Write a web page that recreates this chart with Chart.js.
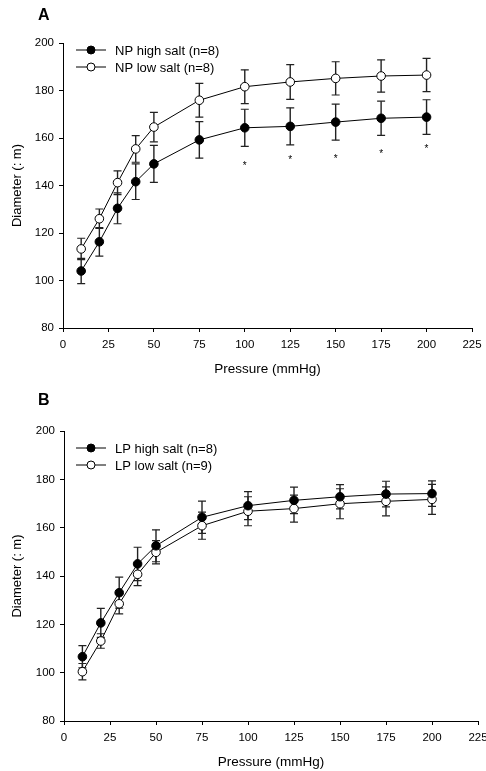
<html lang="en">
  <head>
    <meta charset="UTF-8" />
    <script src="https://cdn.jsdelivr.net/npm/chart.js"></script>
    <title>Diameter vs Pressure</title>
    <style>
      body { margin: 0; background: #fff; }
      canvas { display: block; }
    </style>
  </head>
  <body>
    <canvas id="chartA" width="486" height="385"></canvas>
    <canvas id="chartB" width="486" height="386"></canvas>
    <script>
      // shared x values (mmHg)
      const pressure = [10, 20, 30, 40, 50, 75, 100, 125, 150, 175, 200];

      // panel A
      const npHigh = [104, 116.3, 130.4, 141.6, 149.1, 159.2, 164.3, 164.9, 166.7, 168.3, 168.8];
      const npHighErr = [5.3, 6, 6.5, 7.5, 7.8, 7.7, 7.8, 7.8, 7.6, 7.2, 7.3];
      const npLow = [113.3, 126.0, 141.2, 155.4, 164.6, 175.9, 181.6, 183.6, 185.1, 186.1, 186.5];
      const npLowErr = [4.5, 4.1, 5, 5.6, 6.2, 7.1, 7.1, 7.3, 7, 6.8, 7];
      const starX = [100, 125, 150, 175, 200];
      const starY = [149.5, 151.7, 152.5, 154.2, 156.3];

      // panel B
      const lpHigh = [106.6, 120.6, 133.1, 145, 152.5, 164.3, 169.1, 171.3, 172.8, 173.9, 174.1];
      const lpHighErr = [4.6, 6, 6.4, 6.9, 6.6, 6.7, 5.8, 5.5, 5, 5.3, 5.3];
      const lpLow = [100.4, 113.1, 128.5, 140.7, 149.8, 160.8, 166.8, 167.9, 169.9, 170.9, 171.7];
      const lpLowErr = [3.4, 3, 4.2, 4.7, 4.8, 5.6, 6, 5.6, 6.2, 6, 6.2];

      const xTicks = { min: 0, max: 225, step: 25 };
      const yTicks = { min: 80, max: 200, step: 20 };

      const FONT = "'Liberation Sans', Arial, sans-serif";

      // error bars behind the markers
      const errorBars = {
        id: 'errorBars',
        beforeDatasetsDraw(chart) {
          const ctx = chart.ctx;
          const y = chart.scales.y;
          chart.data.datasets.forEach((ds, i) => {
            const meta = chart.getDatasetMeta(i);
            meta.data.forEach((pt, j) => {
              const v = ds.data[j].y, e = ds.errors[j];
              const top = y.getPixelForValue(v + e);
              const bot = y.getPixelForValue(v - e);
              ctx.save();
              ctx.strokeStyle = '#222';
              ctx.lineWidth = 1.4;
              ctx.beginPath();
              ctx.moveTo(pt.x, top); ctx.lineTo(pt.x, bot);
              ctx.stroke();
              ctx.lineWidth = 1.2;
              ctx.beginPath();
              ctx.moveTo(pt.x - 4, top); ctx.lineTo(pt.x + 4, top);
              ctx.moveTo(pt.x - 4, bot); ctx.lineTo(pt.x + 4, bot);
              ctx.stroke();
              ctx.restore();
            });
          });
        }
      };

      // panel letter, legend, significance stars
      const extras = {
        id: 'extras',
        afterDraw(chart, args, opts) {
          const ctx = chart.ctx;
          ctx.save();
          ctx.fillStyle = '#000';
          ctx.font = 'bold 16px ' + FONT;
          ctx.textBaseline = 'middle';
          ctx.fillText(opts.letter, 38, 16);

          ctx.font = '13px ' + FONT;
          chart.data.datasets.forEach((ds, i) => {
            const ly = opts.legendY + i * 17;
            ctx.strokeStyle = '#000';
            ctx.lineWidth = 1;
            ctx.beginPath();
            ctx.moveTo(76, ly); ctx.lineTo(106, ly);
            ctx.stroke();
            ctx.beginPath();
            ctx.arc(91, ly, 4, 0, Math.PI * 2);
            ctx.fillStyle = ds.backgroundColor;
            ctx.fill();
            ctx.stroke();
            ctx.fillStyle = '#000';
            ctx.fillText(ds.label, 115, ly + 1);
          });

          if (opts.starX) {
            ctx.font = '10px ' + FONT;
            ctx.textAlign = 'center';
            ctx.textBaseline = 'alphabetic';
            opts.starX.forEach((sx, k) => {
              const px = chart.scales.x.getPixelForValue(sx);
              const py = chart.scales.y.getPixelForValue(opts.starY[k]);
              ctx.fillText('*', px, py + 5.7);
            });
          }
          ctx.restore();
        }
      };

      function series(label, ys, errs, fill) {
        return {
          label: label,
          data: pressure.map((p, i) => ({ x: p, y: ys[i] })),
          errors: errs,
          borderColor: '#000',
          backgroundColor: fill,
          pointBackgroundColor: fill,
          pointBorderColor: '#000',
          borderWidth: 1,
          pointBorderWidth: 1,
          pointRadius: 4.3,
          fill: false,
          tension: 0
        };
      }

      function makeChart(id, datasets, cfg) {
        return new Chart(document.getElementById(id), {
          type: 'line',
          data: { datasets: datasets },
          options: {
            responsive: false,
            animation: false,
            layout: { padding: { top: cfg.top, right: cfg.right, left: 0, bottom: 0 } },
            plugins: {
              legend: { display: false },
              tooltip: { enabled: false },
              extras: cfg.extras
            },
            scales: {
              x: {
                type: 'linear',
                min: xTicks.min,
                max: xTicks.max,
                ticks: { stepSize: xTicks.step, color: '#000', font: { family: FONT, size: 11.5 }, padding: 6, maxRotation: 0 },
                grid: { drawOnChartArea: false, tickLength: 4, color: '#000' },
                border: { color: '#000', width: 1 },
                title: { display: true, text: 'Pressure (mmHg)', color: '#000', font: { family: FONT, size: 13.5 }, padding: { top: 0, bottom: cfg.xTitlePad } },
                afterFit(s) { s.height = cfg.xh; s.paddingRight = 0; s.paddingLeft = 0; }
              },
              y: {
                min: yTicks.min,
                max: yTicks.max,
                ticks: { stepSize: yTicks.step, color: '#000', font: { family: FONT, size: 11.5 }, padding: 5 },
                grid: { drawOnChartArea: false, tickLength: 4, color: '#000' },
                border: { color: '#000', width: 1 },
                title: { display: true, text: 'Diameter (: m)', color: '#000', font: { family: FONT, size: 13 }, padding: { top: 10, bottom: 0 } },
                afterFit(s) { s.width = cfg.yw; }
              }
            }
          },
          plugins: [errorBars, extras]
        });
      }

      makeChart('chartA', [
        series('NP high salt (n=8)', npHigh, npHighErr, '#000'),
        series('NP low salt (n=8)', npLow, npLowErr, '#fff')
      ], { top: 43, right: 14, xh: 57, yw: 63, xTitlePad: 8,
           extras: { letter: 'A', legendY: 50, starX: starX, starY: starY } });

      makeChart('chartB', [
        series('LP high salt (n=8)', lpHigh, lpHighErr, '#000'),
        series('LP low salt (n=9)', lpLow, lpLowErr, '#fff')
      ], { top: 46, right: 8, xh: 50, yw: 64, xTitlePad: 1,
           extras: { letter: 'B', legendY: 63 } });
    </script>
  </body>
</html>
